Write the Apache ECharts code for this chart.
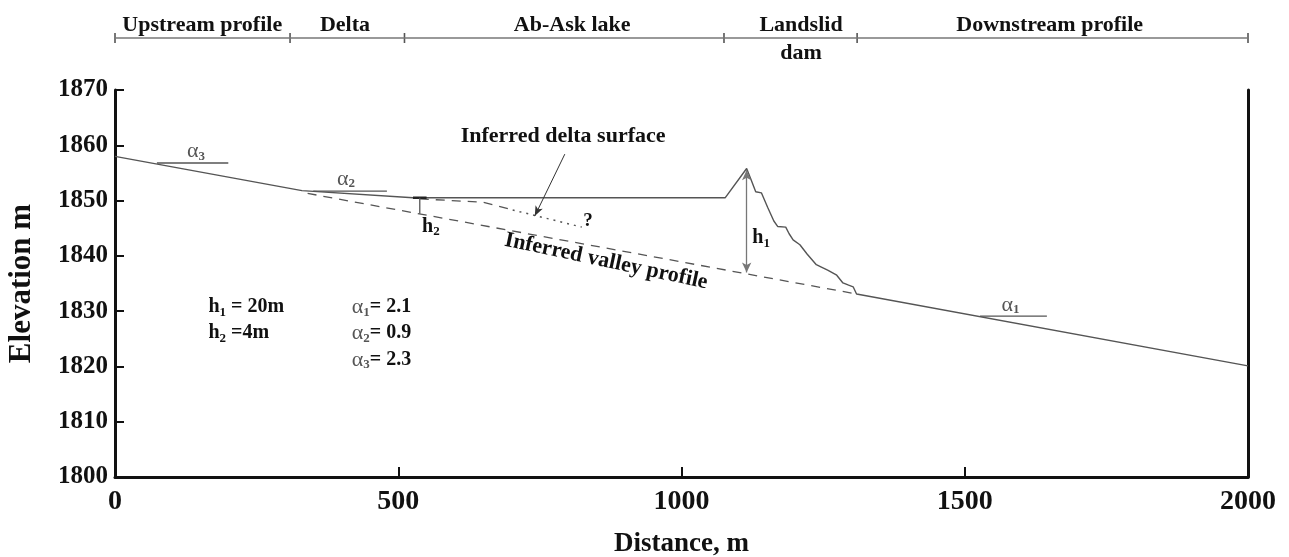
<!DOCTYPE html>
<html><head><meta charset="utf-8">
<script src="https://cdn.jsdelivr.net/npm/echarts@6/dist/echarts.min.js"></script>
<style>html,body{margin:0;padding:0;background:#fff}#c{width:1289px;height:557px}</style>
</head><body><div id="c"></div>
<script>
// ---- data (distance m, elevation m) ----
const profileX = [0, 330, 526, 1077, 1115, 1122, 1131, 1141, 1152, 1163, 1170, 1184, 1190, 1197, 1209, 1222, 1238, 1246, 1258, 1274, 1285, 1295, 1303, 1309, 2000];
const profileY = [1858.0, 1851.8, 1850.5, 1850.5, 1855.8, 1854.0, 1851.6, 1851.4, 1848.8, 1846.3, 1845.3, 1845.2, 1844.0, 1842.9, 1842.0, 1840.3, 1838.4, 1838.0, 1837.4, 1836.5, 1835.1, 1834.7, 1834.4, 1833.1, 1820.1];
const valleyX = [340, 1309];
const valleyY = [1851.3, 1833.1];
const deltaDashX = [538, 650, 702];
const deltaDashY = [1850.3, 1849.7, 1848.3];
const deltaDotX = [702, 824];
const deltaDotY = [1848.3, 1845.2];
const h1X = 1115, h1Top = 1855.5, h1Bottom = 1837.0;
const h2X = 538, h2Top = 1850.5, h2Bottom = 1847.6;
const alphaLineX = [[74, 200], [350, 480], [1527, 1645]];
const alphaLineY = [1856.8, 1851.7, 1829.1];
const zoneBounds = [0, 309, 511, 1075, 1310, 2000];
const zoneNames = ['Upstream profile', 'Delta', 'Ab-Ask lake', 'Landslid\ndam', 'Downstream profile'];
const zoneLabelX = [154, 406, 807, 1211, 1650];
const xTicks = [0, 500, 1000, 1500, 2000];
const yTicks = [1800, 1810, 1820, 1830, 1840, 1850, 1860, 1870];

const FONT = 'Liberation Serif';
const zip = (xs, ys) => xs.map((x, i) => [x, ys[i]]);

const txt = (x, y, formatter, extra) => ({
  value: [x, y],
  label: Object.assign({ show: true, formatter: formatter, position: 'inside', color: '#111',
    textBorderWidth: 0, fontFamily: FONT, fontWeight: 'bold', fontSize: 20 }, extra || {})
});
const sub = { fontSize: 13, fontFamily: FONT, fontWeight: 'bold', color: '#111', padding: [10, 0, 0, 0] };
const b = { fontSize: 20, fontFamily: FONT, fontWeight: 'bold', color: '#111' };
const a = { fontSize: 22, fontFamily: FONT, fontWeight: 'normal', color: '#555' };
const asub = { fontSize: 13, fontFamily: FONT, color: '#555', padding: [10, 0, 0, 0] };
const rich = { b: b, s: sub, a: a, as: asub };

const annotations = [
  txt(791, 1861.7, 'Inferred delta surface', { fontSize: 22 }),
  txt(867, 1839.0, 'Inferred valley profile', { fontSize: 22, rotate: -12 }),
  txt(835, 1846.3, '?', { fontSize: 19 }),
  txt(1125, 1843.2, '{b|h}{s|1}', { position: 'right', distance: 0, rich: rich }),
  txt(542, 1845.3, '{b|h}{s|2}', { position: 'right', distance: 0, rich: rich }),
  txt(127, 1858.9, '{a|α}{as|3}', { position: 'right', distance: 0, rich: rich }),
  txt(392, 1853.9, '{a|α}{as|2}', { position: 'right', distance: 0, rich: rich }),
  txt(1565, 1831.1, '{a|α}{as|1}', { position: 'right', distance: 0, rich: rich }),
  txt(165, 1830.7, '{b|h}{s|1}{b| = 20m}', { position: 'right', distance: 0, rich: rich }),
  txt(165, 1826.0, '{b|h}{s|2}{b| =4m}', { position: 'right', distance: 0, rich: rich }),
  txt(418, 1830.7, '{a|α}{as|1}{b|= 2.1}', { position: 'right', distance: 0, rich: rich }),
  txt(418, 1826.0, '{a|α}{as|2}{b|= 0.9}', { position: 'right', distance: 0, rich: rich }),
  txt(418, 1821.2, '{a|α}{as|3}{b|= 2.3}', { position: 'right', distance: 0, rich: rich })
];

const gray = '#555';
const series = [
  { type: 'line', data: zip(profileX, profileY), symbol: 'none', lineStyle: { color: gray, width: 1.4 }, z: 3 },
  { type: 'line', data: zip(valleyX, valleyY), symbol: 'none', lineStyle: { color: gray, width: 1.3, type: [9, 7] } },
  { type: 'line', data: zip(deltaDashX, deltaDashY), symbol: 'none', lineStyle: { color: gray, width: 1.3, type: [9, 7] } },
  { type: 'line', data: zip(deltaDotX, deltaDotY), symbol: 'none', lineStyle: { color: gray, width: 1.5, type: [2, 5] } },
  ...alphaLineX.map((xs, i) => ({ type: 'line', data: [[xs[0], alphaLineY[i]], [xs[1], alphaLineY[i]]], symbol: 'none',
      lineStyle: { color: gray, width: 1.3 } })),
  { type: 'line', data: [[h2X - 12, h2Top], [h2X + 12, h2Top]], symbol: 'none', lineStyle: { color: '#222', width: 2.5 } },
  { type: 'line', data: [], markLine: { silent: true, symbol: ['arrow', 'arrow'], symbolSize: [7, 10],
      lineStyle: { color: '#777', width: 1.3, type: 'solid' }, label: { show: false },
      data: [[{ coord: [h1X, h1Top] }, { coord: [h1X, h1Bottom] }]] } },
  { type: 'line', data: [], markLine: { silent: true, symbol: ['none', 'arrow'], symbolSize: [6, 10],
      lineStyle: { color: '#333', width: 1, type: 'solid' }, label: { show: false },
      data: [[{ coord: [794, 1858.4] }, { coord: [741, 1847.2] }]] } },
  { type: 'line', data: [[h2X, h2Top], [h2X, h2Bottom]], symbol: 'none', lineStyle: { color: '#555', width: 1.3 } },
  { type: 'scatter', symbolSize: 0, itemStyle: { color: '#111', opacity: 1 }, data: annotations, z: 5 },
  // top zone bar
  { type: 'line', xAxisIndex: 1, yAxisIndex: 1, data: [[zoneBounds[0], 0], [zoneBounds[zoneBounds.length - 1], 0]],
    symbol: 'none', lineStyle: { color: '#777', width: 1.6 } },
  { type: 'scatter', xAxisIndex: 1, yAxisIndex: 1, symbol: 'rect', symbolSize: [1.6, 10], itemStyle: { color: '#555', opacity: 1 },
    data: zoneBounds.map(v => [v, 0]) },
  { type: 'scatter', xAxisIndex: 1, yAxisIndex: 1, symbolSize: 0, itemStyle: { color: '#111', opacity: 1 },
    data: zoneNames.map((n, i) => ({ value: [zoneLabelX[i], 0], label: {
      show: true, formatter: n, position: 'inside', offset: n.indexOf('\n') >= 0 ? [0, 1] : [0, -13],
      lineHeight: 28, color: '#111', textBorderWidth: 0, fontFamily: FONT, fontWeight: 'bold', fontSize: 22 } })) }
];

const chart = echarts.init(document.getElementById('c'), null, { renderer: 'canvas' });
chart.setOption({
  animation: false,
  backgroundColor: '#fff',
  grid: [
    { left: 115, right: 41, top: 90, bottom: 80, outerBoundsMode: 'none', containLabel: false },
    { left: 115, right: 41, top: 26, height: 24, outerBoundsMode: 'none', containLabel: false }
  ],
  xAxis: [
    { type: 'value', gridIndex: 0, min: xTicks[0], max: xTicks[xTicks.length - 1], interval: 500,
      name: 'Distance, m', nameLocation: 'middle', nameGap: 54,
      nameTextStyle: { fontFamily: FONT, fontWeight: 'bold', fontSize: 27, color: '#111' },
      axisLine: { lineStyle: { color: '#111', width: 3 } },
      axisTick: { inside: true, length: 10, lineStyle: { color: '#111', width: 2 } },
      axisLabel: { fontFamily: FONT, fontWeight: 'bold', fontSize: 28, color: '#111', margin: 11,
        formatter: v => String(v) },
      splitLine: { show: false } },
    { type: 'value', gridIndex: 1, min: 0, max: 2000, show: false }
  ],
  yAxis: [
    { type: 'value', gridIndex: 0, min: yTicks[0], max: yTicks[yTicks.length - 1], interval: 10,
      name: 'Elevation m', nameLocation: 'middle', nameGap: 78,
      nameTextStyle: { fontFamily: FONT, fontWeight: 'bold', fontSize: 31, color: '#111' },
      axisLine: { show: true, lineStyle: { color: '#111', width: 3 } },
      axisTick: { show: true, inside: true, length: 9, lineStyle: { color: '#111', width: 2 } },
      axisLabel: { fontFamily: FONT, fontWeight: 'bold', fontSize: 25, color: '#111', margin: 7,
        formatter: v => String(v) },
      splitLine: { show: false } },
    { type: 'value', gridIndex: 1, min: -1, max: 1, show: false },
    { type: 'value', gridIndex: 0, position: 'right', min: 1800, max: 1870,
      axisLine: { show: true, lineStyle: { color: '#111', width: 3 } },
      axisTick: { show: false }, axisLabel: { show: false }, splitLine: { show: false } }
  ],
  series: series
});
</script>
</body></html>
